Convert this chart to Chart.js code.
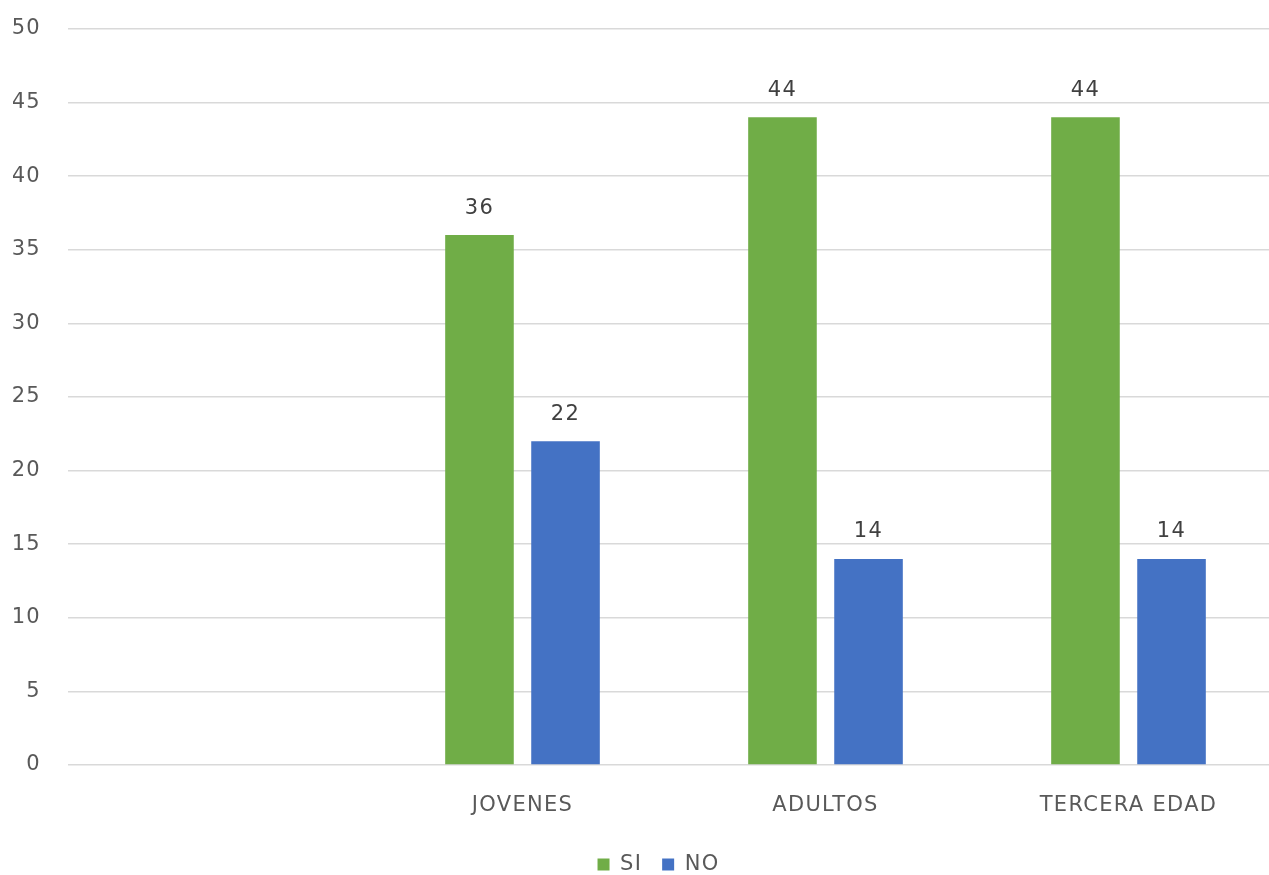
<!DOCTYPE html>
<html>
<head>
<meta charset="utf-8">
<script src="https://cdn.jsdelivr.net/npm/chart.js@4/dist/chart.umd.min.js"></script>
<style>
  html, body { margin: 0; padding: 0; background: #fff; overflow: hidden; }
</style>
</head>
<body>
<!-- plot area runs a little past the right edge of the window, as in the original -->
<canvas id="chart" width="1280" height="875"></canvas>
<script>
// Categories (first one is an empty slot in the original)
const categories = ['', 'JOVENES', 'ADULTOS', 'TERCERA EDAD'];
const siValues = [null, 36, 44, 44];
const noValues = [null, 22, 14, 14];
const yTicks = [0, 5, 10, 15, 20, 25, 30, 35, 40, 45, 50];

const FONT = '"DejaVu Sans", sans-serif';
const FONT_SIZE = 21;

// slightly wider text, like the original
const spacing = {
  id: 'spacing',
  beforeUpdate(chart) { chart.ctx.letterSpacing = '1.3px'; },
  beforeDraw(chart) { chart.ctx.letterSpacing = '1.3px'; },
  // nudge legend to the right, it sits off-centre in the original
  afterLayout(chart) {
    chart.legend.left += 12;
    chart.legend.right += 12;
  }
};

// Draw value labels above each bar
const valueLabels = {
  id: 'valueLabels',
  afterDatasetsDraw(chart) {
    const ctx = chart.ctx;
    ctx.save();
    ctx.font = FONT_SIZE + 'px ' + FONT;
    ctx.fillStyle = '#404040';
    ctx.textAlign = 'center';
    ctx.textBaseline = 'middle';
    chart.data.datasets.forEach((ds, i) => {
      chart.getDatasetMeta(i).data.forEach((bar, j) => {
        const v = ds.data[j];
        if (v == null) return;
        ctx.fillText(v, bar.x, bar.y - 27);
      });
    });
    ctx.restore();
  }
};

new Chart(document.getElementById('chart'), {
  type: 'bar',
  data: {
    labels: categories,
    datasets: [
      { label: 'SI', data: siValues, backgroundColor: '#70AD47' },
      { label: 'NO', data: noValues, backgroundColor: '#4472C4' }
    ]
  },
  options: {
    responsive: false,
    animation: false,
    devicePixelRatio: 1,
    layout: { padding: { top: 0, right: 0, left: 13, bottom: -10 } },
    datasets: { bar: { categoryPercentage: 0.568, barPercentage: 0.797 } },
    plugins: {
      legend: {
        position: 'bottom',
        labels: {
          boxWidth: 12, boxHeight: 12, padding: 20,
          color: '#595959',
          font: { size: FONT_SIZE, family: FONT }
        }
      },
      tooltip: { enabled: false }
    },
    scales: {
      x: {
        grid: { display: false, drawTicks: false },
        border: { display: false },
        ticks: { color: '#595959', font: { size: FONT_SIZE, family: FONT }, padding: 28 },
        afterFit(scale) { scale.height = 69; }
      },
      y: {
        min: 0, max: 50,
        afterBuildTicks(axis) { axis.ticks = yTicks.map(v => ({ value: v })); },
        grid: { color: '#d9d9d9', lineWidth: 1.5, drawTicks: false },
        border: { display: false },
        ticks: { color: '#595959', font: { size: FONT_SIZE, family: FONT }, padding: 27 },
        afterFit(scale) {
          scale.width = 55;
          scale.paddingTop = 29;
        }
      }
    }
  },
  plugins: [spacing, valueLabels]
});
</script>
</body>
</html>
